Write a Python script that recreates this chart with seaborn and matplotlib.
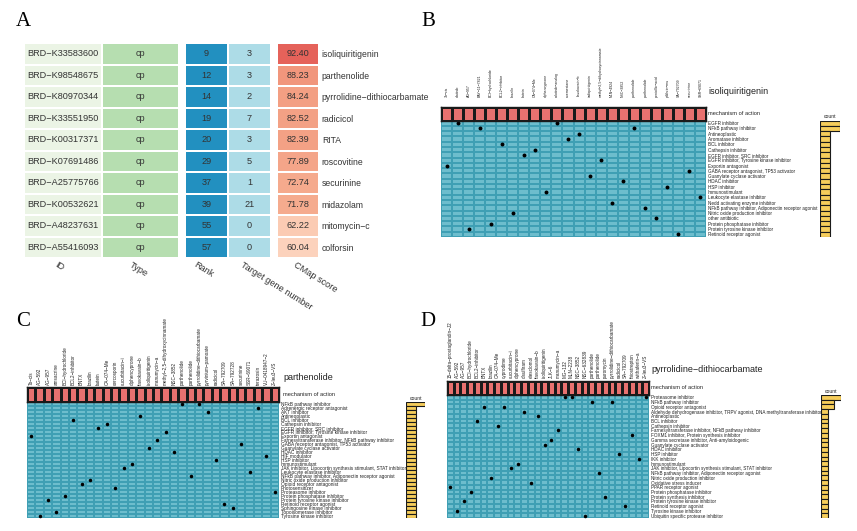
import numpy as np
import pandas as pd
import matplotlib
matplotlib.use("Agg")
import matplotlib.pyplot as plt
import seaborn as sns
from matplotlib.colors import ListedColormap, LinearSegmentedColormap

# ---------------- data ----------------
ids = ["BRD-K33583600", "BRD-K98548675", "BRD-K80970344", "BRD-K33551950", "BRD-K00317371",
       "BRD-K07691486", "BRD-A25775766", "BRD-K00532621", "BRD-A48237631", "BRD-A55416093"]
types = ["cp"] * 10
ranks = [9, 12, 14, 19, 20, 29, 37, 39, 55, 57]
target_genes = [3, 3, 2, 7, 3, 5, 1, 21, 0, 0]
cmap_scores = [92.40, 88.23, 84.24, 82.52, 82.39, 77.89, 72.74, 71.78, 62.22, 60.04]
drugs = ["isoliquiritigenin", "parthenolide", "pyrrolidine-dithiocarbamate", "radicicol", "RITA",
         "roscovitine", "securinine", "midazolam", "mitomycin-c", "colforsin"]
a_col_labels = ["ID", "Type", "Rank", "Target gene number", "CMap score"]

# Panel B (isoliquiritigenin)
b_compounds = ["7b-cis", "afatinib", "AG-957", "BAY-11-7821", "BCI-hydrochloride", "BCL2-inhibitor",
               "brazilin", "butein", "CA-074-Me", "diphencyprone", "erlotinib-analog", "exemestane",
               "flavokavain-b", "isoliquiritigenin", "methyl-2,5-dihydroxycinnamate", "MLN-4924",
               "NSC-3852", "parthenolide", "parthenolide", "penicillic-acid", "pifithrin-mu",
               "SA-792709", "securinine", "SSR-69071"]
b_moa_of = ["Exportin antagonist", "EGFR inhibitor", "Protein tyrosine kinase inhibitor",
            "NFkB pathway inhibitor", "Protein phosphatase inhibitor", "BCL inhibitor",
            "Nitric oxide production inhibitor", "EGFR inhibitor, SRC inhibitor", "Cathepsin inhibitor",
            "Immunostimulant", "EGFR inhibitor", "Aromatase inhibitor", "Antineoplastic",
            "Guanylate cyclase activator", "EGFR inhibitor, Tyrosine kinase inhibitor",
            "Nedd activating enzyme inhibitor", "HDAC inhibitor", "NFkB pathway inhibitor",
            "NFkB pathway inhibitor, Adiponectin receptor agonist", "other antibiotic", "HSP inhibitor",
            "Retinoid receptor agonist", "GABA receptor antagonist, TP53 activator",
            "Leukocyte elastase inhibitor"]
b_moa_rows = ["EGFR inhibitor", "NFkB pathway inhibitor", "Antineoplastic", "Aromatase inhibitor",
              "BCL inhibitor", "Cathepsin inhibitor", "EGFR inhibitor, SRC inhibitor",
              "EGFR inhibitor, Tyrosine kinase inhibitor", "Exportin antagonist",
              "GABA receptor antagonist, TP53 activator", "Guanylate cyclase activator", "HDAC inhibitor",
              "HSP inhibitor", "Immunostimulant", "Leukocyte elastase inhibitor",
              "Nedd activating enzyme inhibitor", "NFkB pathway inhibitor, Adiponectin receptor agonist",
              "Nitric oxide production inhibitor", "other antibiotic", "Protein phosphatase inhibitor",
              "Protein tyrosine kinase inhibitor", "Retinoid receptor agonist"]

# Panel C (parthenolide)
c_compounds = ["7b-cis", "AG-592", "AG-957", "amsacrine", "BCI-hydrochloride", "BCL2-inhibitor", "BNTX",
               "brazilin", "butein", "CA-074-Me", "cercosporin", "cucurbitacin-i", "diphencyprone",
               "flavokavain-b", "isoliquiritigenin", "manumycin-a", "methyl-2,5-dihydroxycinnamate",
               "NSC-3852", "parthenolide", "parthenolide", "pyrrolidine-dithiocarbamate",
               "pyrvinium-pamoate", "radicicol", "SA-792709", "SA-792728", "securinine", "SSR-69071",
               "terazosin", "VU-0418947-2", "Z-leu3-VS"]
c_moa_of = ["Exportin antagonist", "Tyrosine kinase inhibitor", "Protein tyrosine kinase inhibitor",
            "Topoisomerase inhibitor", "Protein phosphatase inhibitor", "BCL inhibitor",
            "Opioid receptor antagonist", "Nitric oxide production inhibitor",
            "EGFR inhibitor, SRC inhibitor", "Cathepsin inhibitor", "Photosensitizer",
            "JAK inhibitor, Lipocortin synthesis stimulant, STAT inhibitor", "Immunostimulant",
            "Antineoplastic", "Guanylate cyclase activator",
            "Farnesyltransferase inhibitor, NFkB pathway inhibitor",
            "EGFR inhibitor, Tyrosine kinase inhibitor", "HDAC inhibitor", "NFkB pathway inhibitor",
            "NFkB pathway inhibitor, Adiponectin receptor agonist", "NFkB pathway inhibitor",
            "AKT inhibitor", "HSP inhibitor", "Retinoid receptor agonist", "Sphingosine kinase inhibitor",
            "GABA receptor antagonist, TP53 activator", "Leukocyte elastase inhibitor",
            "Adrenergic receptor antagonist", "HIF modulator", "Proteasome inhibitor"]
c_moa_rows = ["NFkB pathway inhibitor", "Adrenergic receptor antagonist", "AKT inhibitor", "Antineoplastic",
              "BCL inhibitor", "Cathepsin inhibitor", "EGFR inhibitor, SRC inhibitor",
              "EGFR inhibitor, Tyrosine kinase inhibitor", "Exportin antagonist",
              "Farnesyltransferase inhibitor, NFkB pathway inhibitor",
              "GABA receptor antagonist, TP53 activator", "Guanylate cyclase activator", "HDAC inhibitor",
              "HIF modulator", "HSP inhibitor", "Immunostimulant",
              "JAK inhibitor, Lipocortin synthesis stimulant, STAT inhibitor", "Leukocyte elastase inhibitor",
              "NFkB pathway inhibitor, Adiponectin receptor agonist", "Nitric oxide production inhibitor",
              "Opioid receptor antagonist", "Photosensitizer", "Proteasome inhibitor",
              "Protein phosphatase inhibitor", "Protein tyrosine kinase inhibitor", "Retinoid receptor agonist",
              "Sphingosine kinase inhibitor", "Topoisomerase inhibitor", "Tyrosine kinase inhibitor"]

# Panel D (pyrrolidine-dithiocarbamate)
d_compounds = ["15-delta-prostaglandin-J2", "AG-592", "AG-957", "BCI-hydrochloride", "BCL2-inhibitor", "BNTX",
               "brazilin", "CA-074-Me", "cyprodime", "cucurbitacin-i", "diphencyprone", "disulfiram",
               "elesclomol", "flavokavain-b", "isoliquiritigenin", "JLK-6", "manumycin-a", "MG-132",
               "MLN-2238", "NSC-3852", "NSC-632839", "parthenolide", "parthenolide", "puromycin",
               "pyrrolidine-dithiocarbamate", "radicicol", "SA-792709", "thiostrepton", "withaferin-a",
               "Z-leu3-VS"]
d_moa_of = ["PPAR receptor agonist", "Tyrosine kinase inhibitor", "Protein tyrosine kinase inhibitor",
            "Protein phosphatase inhibitor", "BCL inhibitor", "Opioid receptor antagonist",
            "Nitric oxide production inhibitor", "Cathepsin inhibitor", "Opioid receptor antagonist",
            "JAK inhibitor, Lipocortin synthesis stimulant, STAT inhibitor", "Immunostimulant",
            "Aldehyde dehydrogenase inhibitor, TRPV agonist, DNA methyltransferase inhibitor",
            "Oxidative stress inducer", "Antineoplastic", "Guanylate cyclase activator",
            "Gamma secretase inhibitor, Anti-amyloidogenic",
            "Farnesyltransferase inhibitor, NFkB pathway inhibitor", "Proteasome inhibitor",
            "Proteasome inhibitor", "HDAC inhibitor", "Ubiquitin specific protease inhibitor",
            "NFkB pathway inhibitor", "NFkB pathway inhibitor, Adiponectin receptor agonist",
            "Protein synthesis inhibitor", "NFkB pathway inhibitor", "HSP inhibitor",
            "Retinoid receptor agonist", "FOXM1 inhibitor, Protein synthesis inhibitor", "IKK inhibitor",
            "Proteasome inhibitor"]
d_moa_rows = ["Proteasome inhibitor", "NFkB pathway inhibitor", "Opioid receptor antagonist",
              "Aldehyde dehydrogenase inhibitor, TRPV agonist, DNA methyltransferase inhibitor",
              "Antineoplastic", "BCL inhibitor", "Cathepsin inhibitor",
              "Farnesyltransferase inhibitor, NFkB pathway inhibitor",
              "FOXM1 inhibitor, Protein synthesis inhibitor", "Gamma secretase inhibitor, Anti-amyloidogenic",
              "Guanylate cyclase activator", "HDAC inhibitor", "HSP inhibitor", "IKK inhibitor",
              "Immunostimulant", "JAK inhibitor, Lipocortin synthesis stimulant, STAT inhibitor",
              "NFkB pathway inhibitor, Adiponectin receptor agonist", "Nitric oxide production inhibitor",
              "Oxidative stress inducer", "PPAR receptor agonist", "Protein phosphatase inhibitor",
              "Protein synthesis inhibitor", "Protein tyrosine kinase inhibitor", "Retinoid receptor agonist",
              "Tyrosine kinase inhibitor", "Ubiquitin specific protease inhibitor"]

# ---------------- style ----------------
sns.set_theme(style="white")
plt.rcParams["font.family"] = ["Liberation Sans", "DejaVu Sans"]

W, H = 857, 531
fig = plt.figure(figsize=(W / 100, H / 100), dpi=100)
TXT = "#333333"
MINUS = "\u2212"


def m(s):
    return s.replace("-", MINUS)


def pax(x0, y0, x1, y1):
    return fig.add_axes([x0 / W, 1 - y1 / H, (x1 - x0) / W, (y1 - y0) / H])


def ftext(x, y, s, **kw):
    return fig.text(x / W, 1 - y / H, s, **kw)


# ---------------- panel letters ----------------
for lab, (x, y) in zip("ABCD", [(23, 22), (428, 22), (23, 322), (428, 322)]):
    ftext(x, y, lab, fontsize=15, family=["Liberation Serif", "DejaVu Serif"], ha="center", va="center",
          color="black")

# ---------------- panel A ----------------
A_Y0, A_Y1 = 43, 258


def col_heat(x0, x1, values, cmap, annot, vmin=None, vmax=None):
    ax = pax(x0, A_Y0, x1, A_Y1)
    data = np.array(values, dtype=float).reshape(-1, 1)
    sns.heatmap(data, ax=ax, cmap=cmap, cbar=False, annot=np.array(annot, dtype=object).reshape(-1, 1),
                fmt="", linewidths=1.3, linecolor="white", vmin=vmin, vmax=vmax,
                annot_kws=dict(fontsize=6.6, color=TXT), xticklabels=False, yticklabels=False)
    ax.set_xlabel("")
    ax.set_ylabel("")
    return ax


col_heat(24, 101.5, np.zeros(len(ids)), ListedColormap(["#ebf4e5"]), [m(s) for s in ids])
col_heat(101.5, 179, np.zeros(len(types)), ListedColormap(["#b6deb0"]), types)
col_heat(185, 228, ranks, ListedColormap(["#2290c0"]), [str(v) for v in ranks])
col_heat(228, 271, target_genes, ListedColormap(["#addce7"]), [str(v) for v in target_genes])
score_cmap = LinearSegmentedColormap.from_list(
    "score", [(0.0, "#fcd2bc"), (0.36, "#f5ab8e"), (0.86, "#f29c80"), (1.0, "#e5625a")])
axs = col_heat(277, 319, cmap_scores, score_cmap, [f"{v:.2f}" for v in cmap_scores],
               vmin=min(cmap_scores), vmax=max(cmap_scores))
axs.yaxis.tick_right()
axs.set_yticks(np.arange(len(drugs)) + 0.5)
axs.set_yticklabels([m(d) for d in drugs], rotation=0, fontsize=6.2, color=TXT)
axs.tick_params(axis="y", length=0, pad=2)

for lab, xs in zip(a_col_labels, [58, 133, 197, 244, 297]):
    ftext(xs, 260, lab, fontsize=6.6, color=TXT, rotation=-32, rotation_mode="anchor",
          ha="left", va="top")

# ---------------- MoA panels ----------------
TEAL = "#6dbdcd"
TEAL_LINE = "#3f9fb4"
RED = "#e8716f"
YEL = "#f6cd5b"


def moa_panel(compounds, moa_of, moa_rows, title, grid, header_y0, text_x, title_y, count_x0, count_w,
              dot_s, row_fs, col_fs, col_pad):
    gx0, gy0, gx1, gy1 = grid
    nr, nc = len(moa_rows), len(compounds)
    # main grid
    ax = pax(gx0, gy0, gx1, gy1)
    sns.heatmap(np.zeros((nr, nc)), ax=ax, cmap=ListedColormap([TEAL]), cbar=False, linewidths=0.35,
                linecolor=TEAL_LINE, xticklabels=False, yticklabels=moa_rows)
    ax.yaxis.tick_right()
    ax.set_yticklabels(moa_rows, rotation=0, fontsize=row_fs, color="#222222")
    ax.tick_params(axis="y", length=0, pad=1.2)
    xs = [j + 0.5 for j in range(nc)]
    ys = [moa_rows.index(mo) + 0.5 for mo in moa_of]
    sns.scatterplot(x=xs, y=ys, ax=ax, color="black", s=dot_s, linewidth=0, legend=False)
    ax.set_xlim(0, nc)
    ax.set_ylim(nr, 0)
    ax.set_xlabel("")
    ax.set_ylabel("")
    # header
    axh = pax(gx0, header_y0, gx1, gy0)
    sns.heatmap(np.zeros((1, nc)), ax=axh, cmap=ListedColormap([RED]), cbar=False, linewidths=1.0,
                linecolor="#1a1a1a", xticklabels=[m(c) for c in compounds], yticklabels=False)
    axh.xaxis.tick_top()
    axh.set_xticklabels([m(c) for c in compounds], rotation=90, fontsize=col_fs, color="#222222")
    axh.tick_params(axis="x", length=0, pad=col_pad)
    axh.set_xlabel("")
    axh.set_ylabel("")
    for sp in axh.spines.values():
        sp.set_visible(True)
        sp.set_color("#1a1a1a")
        sp.set_linewidth(1.0)
    ftext(text_x, (header_y0 + gy0) / 2, "mechanism of action", fontsize=4.1, color="#222222",
          ha="left", va="center")
    ftext(text_x, title_y, m(title), fontsize=6.5, color="#222222", ha="left", va="center")
    # count bars
    counts = [sum(1 for mo in moa_of if mo == r) for r in moa_rows]
    dfc = pd.DataFrame({"moa": moa_rows, "count": counts})
    axc = pax(count_x0, gy0, count_x0 + count_w, gy1)
    sns.barplot(data=dfc, x="count", y="moa", order=moa_rows, orient="h", color=YEL, saturation=1,
                edgecolor="#1a1a1a", linewidth=0.8, width=1.0, ax=axc)
    axc.set_xlim(0, max(counts))
    axc.set_ylim(nr - 0.5, -0.5)
    axc.axis("off")
    ftext(count_x0 + count_w / 2, gy0 - 3.5, "count", fontsize=3.6, color="#222222", ha="center",
          va="center")


moa_panel(b_compounds, b_moa_of, b_moa_rows, "isoliquiritigenin", (441, 120.5, 706, 237), 107, 708, 92,
          820, 20, 8, 3.3, 2.55, 7.5)
moa_panel(c_compounds, c_moa_of, c_moa_rows, "parthenolide", (27, 402, 279, 518), 387, 283, 377,
          406, 19, 6.5, 3.4, 3.3, 1.5)
moa_panel(d_compounds, d_moa_of, d_moa_rows, "pyrrolidine-dithiocarbamate", (447, 395, 649, 518), 380.5, 651,
          369, 821, 19.5, 6.5, 3.35, 3.3, 2.0)

fig.savefig("out.png", dpi=100, facecolor="white")
